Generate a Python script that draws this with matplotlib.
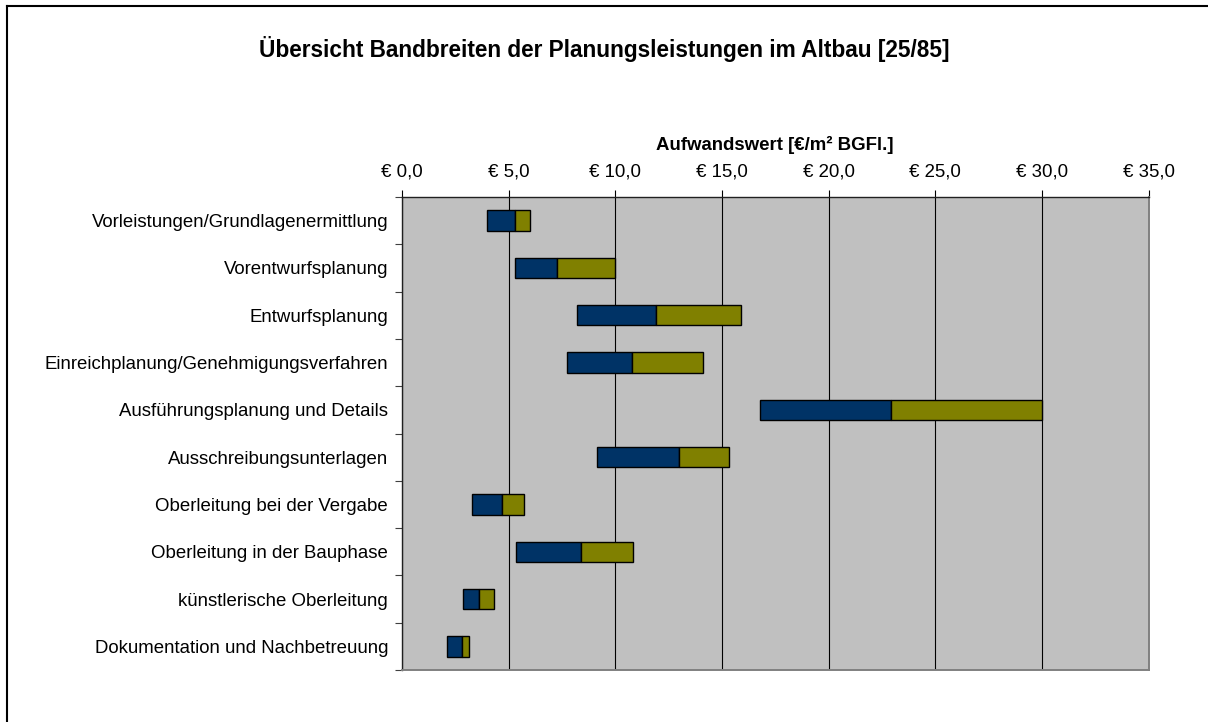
import matplotlib
matplotlib.use("Agg")
import matplotlib.pyplot as plt
from matplotlib.lines import Line2D
import numpy as np

plt.rcParams['font.family'] = ['Liberation Sans', 'DejaVu Sans']

title = "Übersicht Bandbreiten der Planungsleistungen im Altbau [25/85]"
x_label = "Aufwandswert [€/m² BGFl.]"
categories = [
    "Vorleistungen/Grundlagenermittlung",
    "Vorentwurfsplanung",
    "Entwurfsplanung",
    "Einreichplanung/Genehmigungsverfahren",
    "Ausführungsplanung und Details",
    "Ausschreibungsunterlagen",
    "Oberleitung bei der Vergabe",
    "Oberleitung in der Bauphase",
    "künstlerische Oberleitung",
    "Dokumentation und Nachbetreuung",
]
low_values = [4.0, 5.3, 8.2, 7.75, 16.8, 9.15, 3.3, 5.35, 2.85, 2.1]
mid_values = [5.3, 7.25, 11.9, 10.8, 22.9, 13.0, 4.7, 8.4, 3.6, 2.8]
high_values = [6.0, 10.0, 15.9, 14.1, 30.0, 15.35, 5.7, 10.85, 4.3, 3.15]
x_ticks = [0, 5, 10, 15, 20, 25, 30, 35]
x_tick_labels = ["€ 0,0", "€ 5,0", "€ 10,0", "€ 15,0", "€ 20,0", "€ 25,0", "€ 30,0", "€ 35,0"]

W, H = 1208, 722
fig = plt.figure(figsize=(W / 100, H / 100), dpi=100)
fig.patch.set_facecolor('white')

ax = fig.add_axes([402 / W, 1 - 670 / H, (1148.7 - 402) / W, (670 - 197) / H])
ax.set_facecolor('#C0C0C0')

lo = np.array(low_values)
mid = np.array(mid_values)
hi = np.array(high_values)
y = np.arange(len(categories))

ax.barh(y, mid - lo, left=lo, height=0.43, color='#003366', edgecolor='black', linewidth=1.0, zorder=3)
ax.barh(y, hi - mid, left=mid, height=0.43, color='#808000', edgecolor='black', linewidth=1.0, zorder=3)

ax.set_xlim(0, 35)
ax.set_ylim(len(categories) - 0.5, -0.5)

ax.set_xticks(x_ticks)
ax.set_xticklabels(x_tick_labels, fontsize=13.4)
ax.xaxis.tick_top()
ax.tick_params(axis='x', direction='out', length=5, width=0.8, pad=7, colors='black')
ax.grid(axis='x', color='black', linewidth=0.8, zorder=1)

ax.set_yticks(y)
ax.set_yticklabels(categories, fontsize=13.4)
ax.tick_params(axis='y', which='major', length=0, pad=10)
ax.set_yticks(np.arange(-0.5, len(categories) + 0.5, 1), minor=True)
ax.tick_params(axis='y', which='minor', direction='out', length=5, width=0.8, colors='#404040')

for s in ['left', 'top']:
    ax.spines[s].set_color('#202020')
    ax.spines[s].set_linewidth(1.0)
for s in ['right', 'bottom']:
    ax.spines[s].set_color('#808080')
    ax.spines[s].set_linewidth(1.4)

fig.text(604 / W, 1 - 49 / H, title, ha='center', va='center', fontsize=16.3, fontweight='bold')
fig.text(775 / W, 1 - 145 / H, x_label, ha='center', va='center', fontsize=13.4, fontweight='bold')

# outer chart border (top and left visible)
fig.add_artist(Line2D([7 / W, 7 / W], [1 - 6 / H, 0], color='black', linewidth=1.5, transform=fig.transFigure))
fig.add_artist(Line2D([7 / W, 1], [1 - 6 / H, 1 - 6 / H], color='black', linewidth=1.5, transform=fig.transFigure))

fig.savefig("out.png", dpi=100)
